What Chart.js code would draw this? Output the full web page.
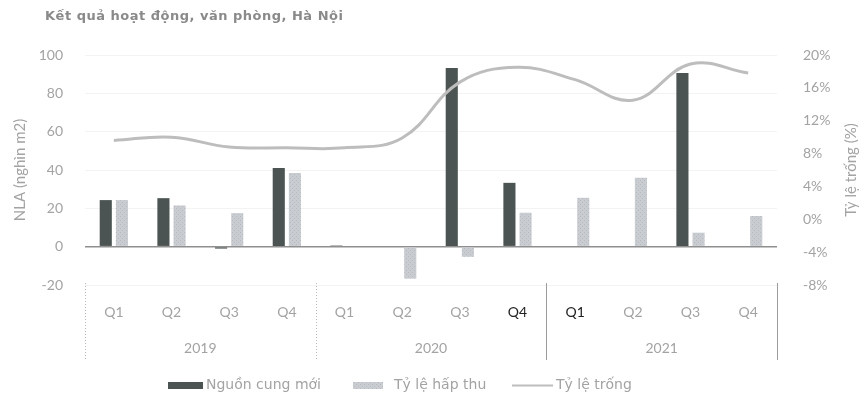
<!DOCTYPE html>
<html>
<head>
<meta charset="utf-8">
<script src="https://cdn.jsdelivr.net/npm/chart.js@4.4.0/dist/chart.umd.min.js"></script>
<style>
    html, body { margin: 0; padding: 0; background: #fff; }
    #khung { width: 861px; height: 398px; position: relative; }
</style>
</head>
<body>
<div id="khung"><canvas id="ketQuaVanPhong"></canvas></div>
<script>
// Dữ liệu theo quý, 2019 - 2021
const quy = ['Q1', 'Q2', 'Q3', 'Q4', 'Q1', 'Q2', 'Q3', 'Q4', 'Q1', 'Q2', 'Q3', 'Q4'];
const nam = ['2019', '2020', '2021'];
const nguonCungMoi = [24.3, 25.3, -1, 41, 0.6, 0, 93.2, 33.3, 0, 0, 90.6, 0]; // nghìn m2
const tyLeHapThu = [24.3, 21.5, 17.5, 38.4, 0, -16.7, -5.3, 17.7, 25.5, 36, 7.3, 16]; // nghìn m2
const tyLeTrong = [9.6, 10.0, 8.8, 8.7, 8.7, 9.9, 16.7, 18.5, 17.0, 14.5, 18.9, 17.8]; // %
const nlaTicks = [-20, 0, 20, 40, 60, 80, 100];
const tyLeTicks = [-8, -4, 0, 4, 8, 12, 16, 20];

const mauToi = '#4b5452';
const mauDuong = '#bdbdbd';
const mauChu = '#a3a3a3';
const phongChu = 'Lato, "Noto Sans", sans-serif';
const phongChuThich = '"DejaVu Sans", sans-serif';

// hoa văn chấm nhỏ cho cột hấp thu
function hoaVan() {
    const c = document.createElement('canvas');
    c.width = 4; c.height = 4;
    const g = c.getContext('2d');
    g.fillStyle = '#c9ccd1';
    g.fillRect(0, 0, 4, 4);
    g.fillStyle = '#b6bac0';
    g.fillRect(0, 0, 1, 1);
    g.fillRect(2, 2, 1, 1);
    return g.createPattern(c, 'repeat');
}
const mauHapThu = hoaVan();

// tiêu đề, nhóm năm, trục phải và chú thích
const veThem = {
    id: 'veThem',
    afterDraw(chart) {
        const { ctx, chartArea, scales } = chart;
        const x = scales.x;
        const w = (chartArea.right - chartArea.left) / quy.length;

        ctx.save();
        ctx.textBaseline = 'middle';

        ctx.fillStyle = '#8a8a8a';
        ctx.font = 'bold 13px "DejaVu Sans", sans-serif';
        ctx.letterSpacing = '0.5px';
        ctx.textAlign = 'left';
        ctx.fillText('Kết quả hoạt động, văn phòng, Hà Nội', 45, 17);
        ctx.letterSpacing = '0px';

        // vạch ngăn giữa các năm
        for (let k = 0; k <= nam.length; k++) {
            const px = Math.round(x.getPixelForValue(k * 4) - w / 2) + 0.5;
            ctx.beginPath();
            ctx.setLineDash(k < 2 ? [1, 2] : []);
            ctx.strokeStyle = k < 2 ? '#b8b8b8' : '#9c9c9c';
            ctx.lineWidth = 1;
            ctx.moveTo(px, chartArea.bottom - 2);
            ctx.lineTo(px, chartArea.bottom + 75);
            ctx.stroke();
        }
        ctx.setLineDash([]);

        ctx.fillStyle = mauChu;
        ctx.font = '14px ' + phongChu;
        ctx.textAlign = 'center';
        nam.forEach((n, k) => {
            const a = x.getPixelForValue(k * 4) - w / 2;
            const b = x.getPixelForValue(k * 4 + 3) + w / 2;
            ctx.fillText(n, (a + b) / 2, 348);
        });

        // tên trục phải, đọc từ dưới lên
        ctx.save();
        ctx.translate(851, 170);
        ctx.rotate(-Math.PI / 2);
        ctx.font = '15px ' + phongChu;
        ctx.fillText('Tỷ lệ trống (%)', 0, 0);
        ctx.restore();

        // chú thích
        ctx.textAlign = 'left';
        ctx.font = '14px ' + phongChuThich;
        ctx.fillStyle = mauToi;
        ctx.fillRect(168, 382, 35, 7);
        ctx.fillStyle = mauChu;
        ctx.fillText('Nguồn cung mới', 206, 385);

        ctx.fillStyle = mauHapThu;
        ctx.fillRect(353, 382, 30, 7);
        ctx.fillStyle = mauChu;
        ctx.fillText('Tỷ lệ hấp thu', 394, 385);

        ctx.strokeStyle = mauDuong;
        ctx.lineWidth = 2;
        ctx.beginPath();
        ctx.moveTo(512, 385.5);
        ctx.lineTo(553, 385.5);
        ctx.stroke();
        ctx.fillText('Tỷ lệ trống', 556, 385);

        ctx.restore();
    }
};

const ctx1 = document.getElementById('ketQuaVanPhong').getContext('2d');
new Chart(ctx1, {
    type: 'bar',
    data: {
        labels: quy,
        datasets: [
            {
                type: 'line',
                label: 'Tỷ lệ trống',
                data: tyLeTrong,
                yAxisID: 'y1',
                borderColor: mauDuong,
                borderWidth: 3,
                pointRadius: 0,
                tension: 0.4,
                order: 0
            },
            {
                label: 'Nguồn cung mới',
                data: nguonCungMoi,
                yAxisID: 'y',
                backgroundColor: mauToi,
                order: 1
            },
            {
                label: 'Tỷ lệ hấp thu',
                data: tyLeHapThu,
                yAxisID: 'y',
                backgroundColor: mauHapThu,
                order: 1
            }
        ]
    },
    options: {
        responsive: true,
        maintainAspectRatio: false,
        animation: false,
        categoryPercentage: 0.56,
        barPercentage: 0.75,
        layout: { padding: { top: 55, left: 0, right: 0, bottom: 0 } },
        scales: {
            x: {
                grid: { display: false, drawTicks: false },
                border: { display: false },
                ticks: {
                    padding: 19,
                    font: { family: phongChu, size: 14 },
                    color: c => (c.index === 7 || c.index === 8) ? '#222' : mauChu
                },
                afterFit: s => { s.height = 113; }
            },
            y: {
                position: 'left',
                min: nlaTicks[0],
                max: nlaTicks[nlaTicks.length - 1],
                ticks: {
                    stepSize: 20,
                    padding: 22,
                    color: mauChu,
                    font: { family: phongChu, size: 14 }
                },
                grid: {
                    drawTicks: false,
                    color: c => c.tick.value === 0 ? '#8f8f8f' : '#f3f3f3',
                    lineWidth: c => c.tick.value === 0 ? 1.5 : 1
                },
                border: { display: false },
                title: {
                    display: true,
                    text: 'NLA (nghìn m2)',
                    color: mauChu,
                    font: { family: phongChu, size: 15 },
                    padding: { top: 11, bottom: 0 }
                },
                afterFit: s => { s.width = 85; }
            },
            y1: {
                position: 'right',
                min: tyLeTicks[0],
                max: tyLeTicks[tyLeTicks.length - 1],
                ticks: {
                    stepSize: 4,
                    padding: 26,
                    color: mauChu,
                    font: { family: phongChu, size: 14 },
                    callback: v => v + '%'
                },
                grid: { display: false, drawTicks: false },
                border: { display: false },
                afterFit: s => { s.width = 84; }
            }
        },
        plugins: {
            legend: { display: false },
            tooltip: { enabled: false }
        }
    },
    plugins: [veThem]
});
</script>
</body>
</html>
